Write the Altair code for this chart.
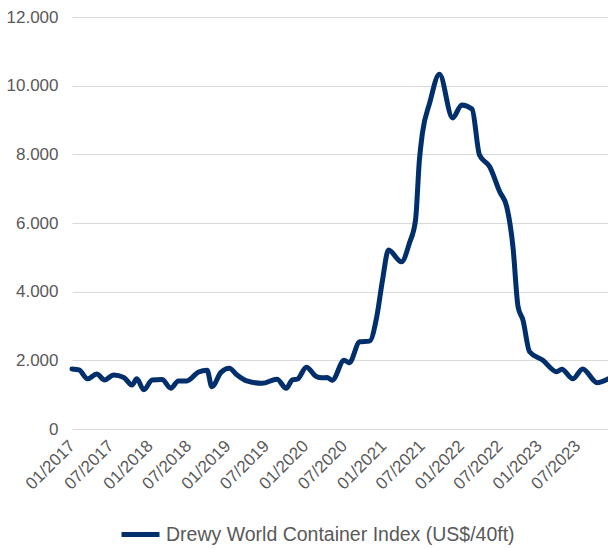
import altair as alt
import pandas as pd

# Data
dates = [
    "2017-01-01", "2017-02-03", "2017-03-15", "2017-04-27", "2017-06-03", "2017-07-15",
    "2017-09-01", "2017-10-10", "2017-11-01", "2017-12-04", "2018-01-12", "2018-02-27",
    "2018-04-10", "2018-05-15", "2018-06-24", "2018-08-18", "2018-09-27", "2018-10-19",
    "2018-12-01", "2019-01-09", "2019-02-15", "2019-03-28", "2019-06-12", "2019-08-21",
    "2019-10-03", "2019-11-01", "2019-11-24", "2020-01-06", "2020-02-21", "2020-03-19",
    "2020-04-12", "2020-05-06", "2020-07-01", "2020-07-25", "2020-09-12", "2020-10-28",
    "2020-12-01", "2020-12-28", "2021-01-25", "2021-03-27", "2021-05-03", "2021-06-01",
    "2021-06-19", "2021-07-03", "2021-08-06", "2021-09-21", "2021-11-22", "2022-01-04",
    "2022-02-21", "2022-03-28", "2022-05-15", "2022-07-01", "2022-08-03", "2022-09-01",
    "2022-09-25", "2022-10-18", "2022-11-18", "2023-01-18", "2023-03-25", "2023-04-18",
    "2023-06-09", "2023-07-25", "2023-10-01", "2023-11-21",
]
values = [
    1750, 1720, 1460, 1600, 1430, 1570,
    1500, 1280, 1460, 1140, 1430, 1440,
    1190, 1400, 1400, 1660, 1710, 1230,
    1650, 1770, 1570, 1410, 1330, 1450,
    1185, 1430, 1450, 1800, 1530, 1490,
    1500, 1420, 2000, 1930, 2540, 2560,
    3270, 4340, 5210, 4870, 5410, 6090,
    7830, 8610, 9490, 10330, 9060, 9440,
    9320, 7980, 7640, 6910, 6470, 5310,
    3560, 3170, 2250, 2010, 1670, 1740,
    1460, 1750, 1350, 1460,
]
series_name = "Drewy World Container Index (US$/40ft)"
x_tick_dates = [(y, m) for y in range(2017, 2024) for m in (1, 7)]
y_ticks = [0, 2000, 4000, 6000, 8000, 10000, 12000]

df = pd.DataFrame({
    "date": [d + "T00:00:00" for d in dates],
    "value": values,
    "series": series_name,
})

x_axis = alt.Axis(
    values=[alt.DateTime(year=y, month=m, date=1) for y, m in x_tick_dates],
    format="%m/%Y",
    labelAngle=-45,
    labelAlign="right",
    labelBaseline="middle",
    labelPadding=14,
    labelFontSize=17,
    labelColor="#595959",
    labelFont="Liberation Sans",
    grid=False,
    domain=False,
    ticks=False,
    title=None,
    labelOverlap=False,
)
y_axis = alt.Axis(
    values=y_ticks,
    labelExpr="replace(format(datum.value, ','), ',', '.')",
    labelFontSize=17,
    labelColor="#595959",
    labelFont="Liberation Sans",
    labelPadding=14,
    grid=True,
    gridColor="#D9D9D9",
    gridWidth=1,
    domain=False,
    ticks=False,
    title=None,
)

chart = alt.Chart(df).mark_line(
    strokeWidth=5, interpolate="monotone", strokeCap="round", strokeJoin="round"
).encode(
    x=alt.X(
        "date:T",
        axis=x_axis,
        scale=alt.Scale(
            domain=[alt.DateTime(year=2017, month=1, date=1),
                    alt.DateTime(year=2023, month=11, date=21)],
            nice=False,
        ),
    ),
    y=alt.Y("value:Q", axis=y_axis, scale=alt.Scale(domain=[0, 12000], nice=False)),
    color=alt.Color(
        "series:N",
        scale=alt.Scale(range=["#002F6C"]),
        legend=alt.Legend(
            orient="none",
            legendX=47,
            legendY=496,
            title=None,
            symbolType="stroke",
            symbolSize=1444,
            symbolStrokeWidth=5,
            labelFontSize=19.5,
            labelColor="#595959",
            labelFont="Liberation Sans",
            labelOffset=4,
            labelLimit=600,
            padding=0,
        ),
    ),
).properties(
    width=536,
    height=412,
    padding={"left": 72, "top": 17, "right": 0, "bottom": 120},
    autosize=alt.AutoSizeParams(type="none"),
).configure(background="white", view=alt.ViewConfig(stroke=None))

chart.save("out.html", embed_options={"renderer": "svg", "actions": False})
